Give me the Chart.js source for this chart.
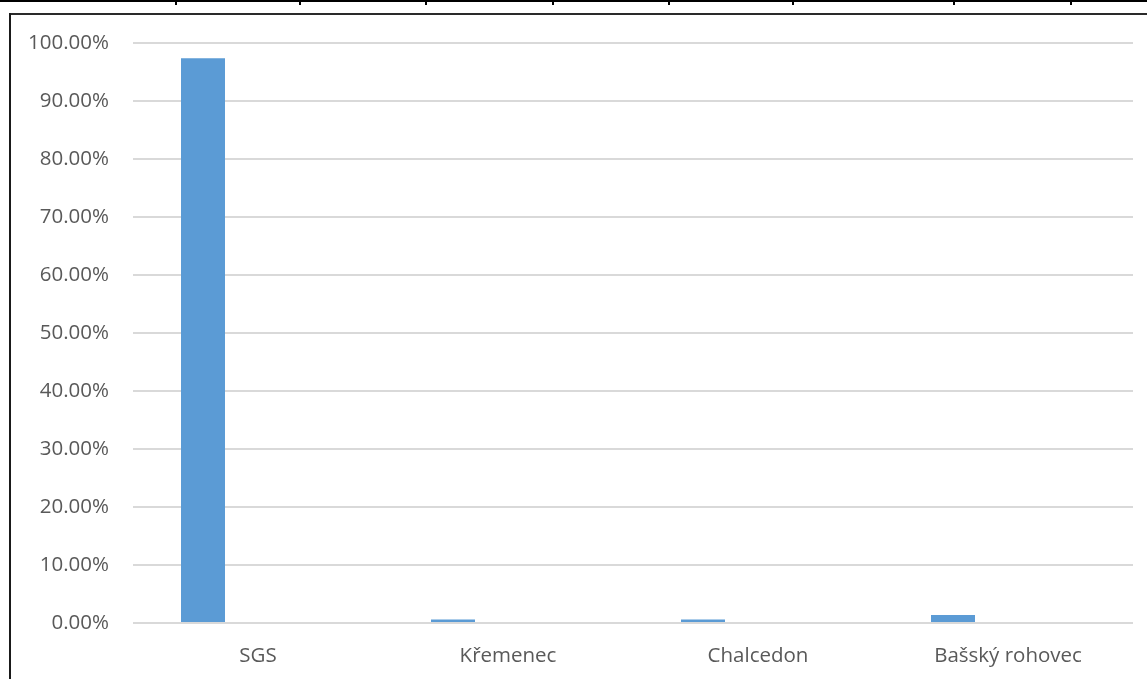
<!DOCTYPE html>
<html>
<head>
<meta charset="utf-8">
<script src="https://cdn.jsdelivr.net/npm/chart.js@4.4.1/dist/chart.umd.min.js"></script>
<style>
    html, body { margin: 0; padding: 0; background: #fff; }
    body { width: 1147px; height: 679px; position: relative; overflow: hidden; }
    /* spreadsheet cell border above the chart */
    .cell-line { position: absolute; left: 0; top: 0; width: 1147px; height: 2px; background: #000; }
    .cell-tick { position: absolute; top: 0; width: 2px; height: 5px; background: #000; }
    .frame-top { position: absolute; left: 9px; top: 13px; width: 1138px; height: 2px; background: #2a2a2a; }
    .frame-left { position: absolute; left: 9px; top: 13px; width: 2px; height: 666px; background: #1a1a1a; }
    #wrap { position: absolute; left: 11px; top: 7px; width: 1136px; height: 672px; }
</style>
</head>
<body>
<div class="cell-line"></div>
<div id="ticks"></div>
<div class="frame-top"></div>
<div class="frame-left"></div>
<div id="wrap"><canvas id="chart"></canvas></div>

<script>
// values
var categories = ["SGS", "Křemenec", "Chalcedon", "Bašský rohovec"];
var shares = [0.974, 0.006, 0.006, 0.014];
var emptySeries = [null, null, null, null];
var yTicks = [0, 0.1, 0.2, 0.3, 0.4, 0.5, 0.6, 0.7, 0.8, 0.9, 1.0];

// column borders of the sheet row on top
var cellBorders = [176, 300, 426, 553, 669, 793, 954, 1071];
var ticksBox = document.getElementById("ticks");
for (var i in cellBorders) {
    var t = document.createElement("div");
    t.className = "cell-tick";
    t.style.left = (cellBorders[i] - 1) + "px";
    ticksBox.appendChild(t);
}

var textColor = "#595959";
var font = { family: "'Open Sans', 'Noto Sans', sans-serif", size: 20.5 };

new Chart(document.getElementById("chart"), {
    type: "bar",
    data: {
        labels: categories,
        datasets: [
            { label: "Podíl", data: shares, backgroundColor: "#5b9bd5", borderWidth: 0 },
            { label: "", data: emptySeries, backgroundColor: "#ed7d31", borderWidth: 0 }
        ]
    },
    options: {
        responsive: true,
        maintainAspectRatio: false,
        animation: false,
        categoryPercentage: 0.88,
        barPercentage: 0.4,
        layout: { padding: { left: 0, top: 0, right: 14, bottom: 0 } },
        plugins: {
            legend: { display: false },
            tooltip: { enabled: false }
        },
        scales: {
            x: {
                grid: { display: false, drawTicks: false },
                border: { display: false },
                ticks: { color: textColor, font: font, padding: 21, maxRotation: 0 },
                afterFit: function (scale) { scale.height = 56; }
            },
            y: {
                min: 0,
                max: 1,
                afterBuildTicks: function (scale) {
                    scale.ticks = yTicks.map(function (v) { return { value: v }; });
                },
                grid: { color: "#d9d9d9", lineWidth: 2, drawTicks: false },
                border: { display: false },
                ticks: {
                    color: textColor,
                    font: font,
                    padding: 24,
                    callback: function (v) { return (v * 100).toFixed(2) + "%"; }
                },
                afterFit: function (scale) { scale.width = 122; }
            }
        }
    }
});
</script>
</body>
</html>
